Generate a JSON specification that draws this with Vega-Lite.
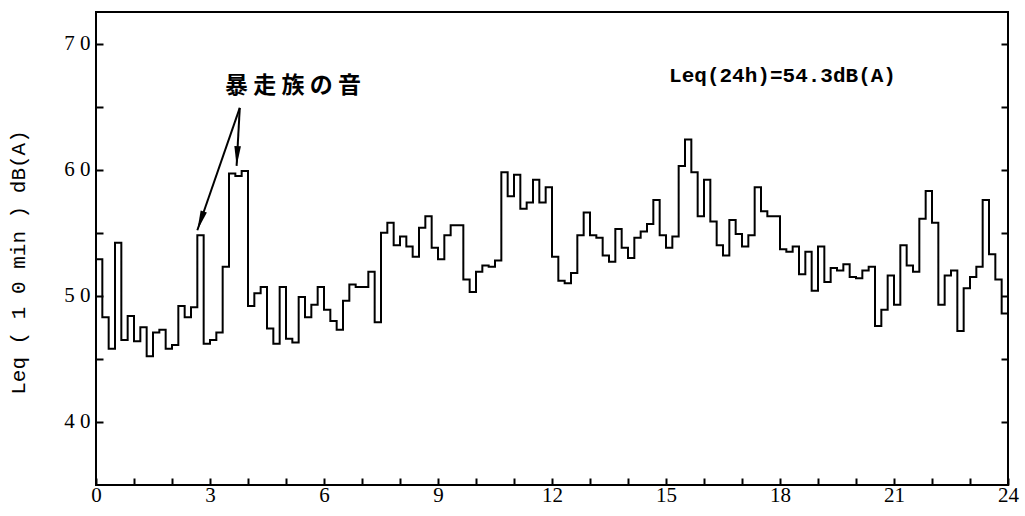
{
  "$schema": "https://vega.github.io/schema/vega-lite/v6.json",
  "width": 912,
  "height": 473,
  "autosize": "none",
  "padding": {"left": 96, "top": 12, "right": 17, "bottom": 31},
  "background": "white",
  "config": {
    "view": {"stroke": "black", "strokeWidth": 2},
    "font": "Liberation Serif"
  },
  "datasets": {
    "leq": [
      {"minute": 0, "leq": 52.9}, {"minute": 10, "leq": 48.3}, {"minute": 20, "leq": 45.8}, {"minute": 30, "leq": 54.2},
      {"minute": 40, "leq": 46.5}, {"minute": 50, "leq": 48.4}, {"minute": 60, "leq": 46.4}, {"minute": 70, "leq": 47.5},
      {"minute": 80, "leq": 45.2}, {"minute": 90, "leq": 47.1}, {"minute": 100, "leq": 47.3}, {"minute": 110, "leq": 45.8},
      {"minute": 120, "leq": 46.1}, {"minute": 130, "leq": 49.2}, {"minute": 140, "leq": 48.3}, {"minute": 150, "leq": 49.1},
      {"minute": 160, "leq": 54.8}, {"minute": 170, "leq": 46.2}, {"minute": 180, "leq": 46.5}, {"minute": 190, "leq": 47.1},
      {"minute": 200, "leq": 52.3}, {"minute": 210, "leq": 59.7}, {"minute": 220, "leq": 59.5}, {"minute": 230, "leq": 59.9},
      {"minute": 240, "leq": 49.2}, {"minute": 250, "leq": 50.2}, {"minute": 260, "leq": 50.7}, {"minute": 270, "leq": 47.4},
      {"minute": 280, "leq": 46.2}, {"minute": 290, "leq": 50.7}, {"minute": 300, "leq": 46.6}, {"minute": 310, "leq": 46.3},
      {"minute": 320, "leq": 49.9}, {"minute": 330, "leq": 48.3}, {"minute": 340, "leq": 49.3}, {"minute": 350, "leq": 50.7},
      {"minute": 360, "leq": 48.9}, {"minute": 370, "leq": 48.0}, {"minute": 380, "leq": 47.3}, {"minute": 390, "leq": 49.6},
      {"minute": 400, "leq": 50.9}, {"minute": 410, "leq": 50.7}, {"minute": 420, "leq": 50.7}, {"minute": 430, "leq": 51.9},
      {"minute": 440, "leq": 47.9}, {"minute": 450, "leq": 55.0}, {"minute": 460, "leq": 55.8}, {"minute": 470, "leq": 54.0},
      {"minute": 480, "leq": 54.7}, {"minute": 490, "leq": 53.9}, {"minute": 500, "leq": 53.1}, {"minute": 510, "leq": 55.4},
      {"minute": 520, "leq": 56.3}, {"minute": 530, "leq": 53.8}, {"minute": 540, "leq": 52.9}, {"minute": 550, "leq": 54.8},
      {"minute": 560, "leq": 55.6}, {"minute": 570, "leq": 55.6}, {"minute": 580, "leq": 51.3}, {"minute": 590, "leq": 50.3},
      {"minute": 600, "leq": 51.9}, {"minute": 610, "leq": 52.4}, {"minute": 620, "leq": 52.3}, {"minute": 630, "leq": 52.8},
      {"minute": 640, "leq": 59.8}, {"minute": 650, "leq": 57.9}, {"minute": 660, "leq": 59.6}, {"minute": 670, "leq": 56.9},
      {"minute": 680, "leq": 57.4}, {"minute": 690, "leq": 59.2}, {"minute": 700, "leq": 57.4}, {"minute": 710, "leq": 58.6},
      {"minute": 720, "leq": 53.1}, {"minute": 730, "leq": 51.2}, {"minute": 740, "leq": 51.0}, {"minute": 750, "leq": 51.8},
      {"minute": 760, "leq": 54.8}, {"minute": 770, "leq": 56.6}, {"minute": 780, "leq": 54.8}, {"minute": 790, "leq": 54.6},
      {"minute": 800, "leq": 53.2}, {"minute": 810, "leq": 52.7}, {"minute": 820, "leq": 55.3}, {"minute": 830, "leq": 53.8},
      {"minute": 840, "leq": 53.0}, {"minute": 850, "leq": 54.6}, {"minute": 860, "leq": 55.1}, {"minute": 870, "leq": 55.7},
      {"minute": 880, "leq": 57.6}, {"minute": 890, "leq": 54.8}, {"minute": 900, "leq": 53.8}, {"minute": 910, "leq": 54.7},
      {"minute": 920, "leq": 60.3}, {"minute": 930, "leq": 62.4}, {"minute": 940, "leq": 59.8}, {"minute": 950, "leq": 56.3},
      {"minute": 960, "leq": 59.2}, {"minute": 970, "leq": 55.9}, {"minute": 980, "leq": 54.0}, {"minute": 990, "leq": 53.2},
      {"minute": 1000, "leq": 56.0}, {"minute": 1010, "leq": 54.9}, {"minute": 1020, "leq": 53.9}, {"minute": 1030, "leq": 54.8},
      {"minute": 1040, "leq": 58.6}, {"minute": 1050, "leq": 56.7}, {"minute": 1060, "leq": 56.3}, {"minute": 1070, "leq": 56.3},
      {"minute": 1080, "leq": 53.7}, {"minute": 1090, "leq": 53.5}, {"minute": 1100, "leq": 53.9}, {"minute": 1110, "leq": 51.7},
      {"minute": 1120, "leq": 53.5}, {"minute": 1130, "leq": 50.4}, {"minute": 1140, "leq": 53.9}, {"minute": 1150, "leq": 51.1},
      {"minute": 1160, "leq": 52.2}, {"minute": 1170, "leq": 52.0}, {"minute": 1180, "leq": 52.5}, {"minute": 1190, "leq": 51.5},
      {"minute": 1200, "leq": 51.4}, {"minute": 1210, "leq": 52.0}, {"minute": 1220, "leq": 52.3}, {"minute": 1230, "leq": 47.6},
      {"minute": 1240, "leq": 48.9}, {"minute": 1250, "leq": 51.6}, {"minute": 1260, "leq": 49.3}, {"minute": 1270, "leq": 54.0},
      {"minute": 1280, "leq": 52.4}, {"minute": 1290, "leq": 51.9}, {"minute": 1300, "leq": 56.1}, {"minute": 1310, "leq": 58.3},
      {"minute": 1320, "leq": 55.8}, {"minute": 1330, "leq": 49.3}, {"minute": 1340, "leq": 51.6}, {"minute": 1350, "leq": 52.0},
      {"minute": 1360, "leq": 47.2}, {"minute": 1370, "leq": 50.6}, {"minute": 1380, "leq": 51.5}, {"minute": 1390, "leq": 52.3},
      {"minute": 1400, "leq": 57.6}, {"minute": 1410, "leq": 53.3}, {"minute": 1420, "leq": 51.3}, {"minute": 1430, "leq": 48.6},
      {"minute": 1440, "leq": 48.6}
    ],
    "arrows": [
      {"name": "a1", "from_minute": 227, "from_leq": 64.9, "to_minute": 160, "to_leq": 55.2},
      {"name": "a2", "from_minute": 227, "from_leq": 64.9, "to_minute": 222, "to_leq": 60.3}
    ],
    "notes": [
      {"minute": 311, "leq": 66.6, "text": "暴 走 族 の 音", "kind": "jp"},
      {"minute": 1084, "leq": 67.4, "text": "Leq(24h)=54.3dB(A)", "kind": "en"}
    ]
  },
  "resolve": {"axis": {"x": "independent", "y": "independent"}},
  "layer": [
    {
      "data": {"name": "leq"},
      "mark": {"type": "line", "interpolate": "step-after", "color": "black", "strokeWidth": 2},
      "encoding": {
        "x": {
          "field": "minute", "type": "quantitative",
          "scale": {"domain": [0, 1440], "nice": false, "zero": false},
          "axis": {
            "orient": "bottom",
            "values": [0, 180, 360, 540, 720, 900, 1080, 1260, 1440],
            "labelExpr": "format(datum.value / 60, 'd')",
            "labelOverlap": false,
            "tickSize": -7, "tickWidth": 2, "tickColor": "black",
            "domain": false, "grid": false, "title": null,
            "labelFont": "Liberation Serif", "labelFontSize": 21, "labelColor": "black",
            "labelPadding": 6, "labelFlush": false
          }
        },
        "y": {
          "field": "leq", "type": "quantitative",
          "scale": {"domain": [35, 72.5], "nice": false, "zero": false},
          "axis": {
            "values": [40, 45, 50, 55, 60, 65, 70],
            "labelExpr": "datum.value % 10 == 0 ? substring(toString(datum.value), 0, 1) + ' ' + substring(toString(datum.value), 1, 2) : ''",
            "labelOverlap": false,
            "tickSize": -7, "tickWidth": 2, "tickColor": "black",
            "domain": false, "grid": false,
            "title": "Leq ( 1 0 min ) dB(A)",
            "titleFont": "Liberation Mono", "titleFontSize": 21, "titleFontWeight": "normal", "titleColor": "black",
            "titleX": -78, "titleY": 250, "titleBaseline": "middle", "titleAlign": "center", "titleAngle": -90,
            "labelFont": "Liberation Serif", "labelFontSize": 21, "labelColor": "black",
            "labelPadding": 13
          }
        }
      }
    },
    {
      "data": {"name": "arrows"},
      "mark": {"type": "rule", "color": "black", "strokeWidth": 2},
      "encoding": {
        "x": {
          "field": "from_minute", "type": "quantitative",
          "axis": {
            "orient": "bottom",
            "values": [60, 120, 240, 300, 420, 480, 600, 660, 780, 840, 960, 1020, 1140, 1200, 1320, 1380],
            "labels": false, "tickSize": -7, "tickWidth": 2, "tickColor": "black",
            "domain": false, "grid": false, "title": null
          }
        },
        "y": {
          "field": "from_leq", "type": "quantitative",
          "axis": {
            "orient": "right", "values": [40, 45, 50, 55, 60, 65, 70], "labels": false,
            "tickSize": -7, "tickWidth": 2, "tickColor": "black",
            "domain": false, "grid": false, "title": null
          }
        },
        "x2": {"field": "to_minute"},
        "y2": {"field": "to_leq"}
      }
    },
    {
      "data": {"name": "arrows"},
      "transform": [{"filter": "datum.name == 'a1'"}],
      "mark": {"type": "point", "filled": true, "color": "black", "opacity": 1, "size": 484, "angle": 199, "shape": "M0,0L-0.3,1.8L0.3,1.8Z"},
      "encoding": {
        "x": {"field": "to_minute", "type": "quantitative", "axis": null},
        "y": {"field": "to_leq", "type": "quantitative", "axis": null}
      }
    },
    {
      "data": {"name": "arrows"},
      "transform": [{"filter": "datum.name == 'a2'"}],
      "mark": {"type": "point", "filled": true, "color": "black", "opacity": 1, "size": 484, "angle": 183, "shape": "M0,0L-0.3,1.8L0.3,1.8Z"},
      "encoding": {
        "x": {"field": "to_minute", "type": "quantitative", "axis": null},
        "y": {"field": "to_leq", "type": "quantitative", "axis": null}
      }
    },
    {
      "data": {"name": "notes"},
      "transform": [{"filter": "datum.kind == 'jp'"}],
      "mark": {"type": "text", "font": "Noto Sans CJK JP", "fontSize": 23, "fontWeight": "bold", "color": "black", "align": "center", "baseline": "middle"},
      "encoding": {
        "x": {"field": "minute", "type": "quantitative", "axis": null},
        "y": {"field": "leq", "type": "quantitative", "axis": null},
        "text": {"field": "text"}
      }
    },
    {
      "data": {"name": "notes"},
      "transform": [{"filter": "datum.kind == 'en'"}],
      "mark": {"type": "text", "font": "Liberation Mono", "fontSize": 21, "fontWeight": "bold", "color": "black", "align": "center", "baseline": "middle"},
      "encoding": {
        "x": {"field": "minute", "type": "quantitative", "axis": null},
        "y": {"field": "leq", "type": "quantitative", "axis": null},
        "text": {"field": "text"}
      }
    }
  ]
}
